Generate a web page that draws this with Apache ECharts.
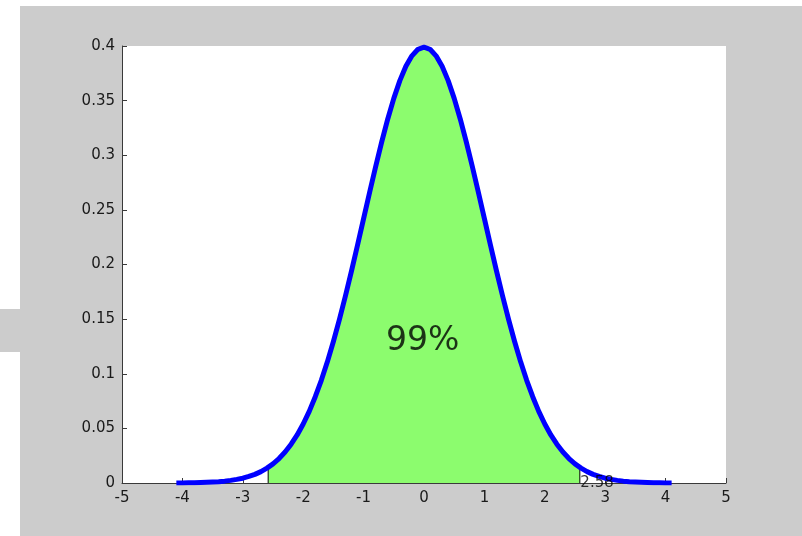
<!DOCTYPE html>
<html>
<head>
<meta charset="utf-8">
<script src="https://cdn.jsdelivr.net/npm/echarts@6/dist/echarts.min.js"></script>
<style>
  html, body { margin: 0; padding: 0; background: #ffffff; }
  #frame { position: absolute; left: 20px; top: 6px; width: 782px; height: 530px; background: #cccccc; }
  #tab { position: absolute; left: 0; top: 309px; width: 20px; height: 43px; background: #cccccc; }
  #chart { position: absolute; left: 0; top: 0; width: 802px; height: 536px; }
</style>
</head>
<body>
<div id="frame"></div>
<div id="tab"></div>
<div id="chart"></div>
<script>
// Standard normal density, sampled every 0.1 on [-4.1, 4.1]
const xs = [-4.1,-4.0,-3.9,-3.8,-3.7,-3.6,-3.5,-3.4,-3.3,-3.2,-3.1,-3.0,-2.9,-2.8,-2.7,-2.6,-2.5,-2.4,-2.3,-2.2,-2.1,
  -2.0,-1.9,-1.8,-1.7,-1.6,-1.5,-1.4,-1.3,-1.2,-1.1,-1.0,-0.9,-0.8,-0.7,-0.6,-0.5,-0.4,-0.3,-0.2,-0.1,
  0.0,0.1,0.2,0.3,0.4,0.5,0.6,0.7,0.8,0.9,1.0,1.1,1.2,1.3,1.4,1.5,1.6,1.7,1.8,1.9,
  2.0,2.1,2.2,2.3,2.4,2.5,2.6,2.7,2.8,2.9,3.0,3.1,3.2,3.3,3.4,3.5,3.6,3.7,3.8,3.9,4.0,4.1];
const density = [0.0001,0.0001,0.0002,0.0003,0.0004,0.0006,0.0009,0.0012,0.0017,0.0024,0.0033,0.0044,0.0060,0.0079,0.0104,
  0.0136,0.0175,0.0224,0.0283,0.0355,0.0440,0.0540,0.0656,0.0790,0.0940,0.1109,0.1295,0.1497,0.1714,0.1942,0.2179,
  0.2420,0.2661,0.2897,0.3123,0.3332,0.3521,0.3683,0.3814,0.3910,0.3970,
  0.3989,
  0.3970,0.3910,0.3814,0.3683,0.3521,0.3332,0.3123,0.2897,0.2661,0.2420,0.2179,0.1942,0.1714,0.1497,0.1295,0.1109,
  0.0940,0.0790,0.0656,0.0540,0.0440,0.0355,0.0283,0.0224,0.0175,0.0136,0.0104,0.0079,0.0060,0.0044,0.0033,0.0024,
  0.0017,0.0012,0.0009,0.0006,0.0004,0.0003,0.0002,0.0001,0.0001];

// Two-sided 99% critical value and the density there
const critical = 2.58;
const criticalDensity = 0.0143;
const areaLabel = '99%';
const areaLabelPos = [-0.02, 0.13];

const xTicks = { min: -5, max: 5, step: 1 };
const yTicks = { min: 0, max: 0.4, step: 0.05 };

const curve = xs.map((x, i) => [x, density[i]]);
const shaded = [[-critical, 0], [-critical, criticalDensity]]
  .concat(curve.filter(p => Math.abs(p[0]) < critical))
  .concat([[critical, criticalDensity], [critical, 0]]);

const font = '"DejaVu Sans", Verdana, sans-serif';
const axisColor = '#3a3a3a';
const textColor = '#1a1a1a';

const chart = echarts.init(document.getElementById('chart'), null, { renderer: 'canvas' });
chart.setOption({
  animation: false,
  backgroundColor: 'transparent',
  grid: {
    show: true, left: 122, top: 46, right: 76, bottom: 53,
    backgroundColor: '#ffffff', borderWidth: 0
  },
  xAxis: {
    type: 'value', min: xTicks.min, max: xTicks.max, interval: xTicks.step,
    axisLine: { onZero: false, lineStyle: { color: axisColor, width: 1 } },
    axisTick: { inside: true, length: 5, lineStyle: { color: axisColor } },
    axisLabel: { color: textColor, fontSize: 15, fontFamily: font, margin: 8 },
    splitLine: { show: false }
  },
  yAxis: {
    type: 'value', min: yTicks.min, max: yTicks.max, interval: yTicks.step,
    axisLine: { show: true, onZero: false, lineStyle: { color: axisColor, width: 1 } },
    axisTick: { show: true, inside: true, length: 5, lineStyle: { color: axisColor } },
    axisLabel: { color: textColor, fontSize: 15, fontFamily: font, margin: 7 },
    splitLine: { show: false }
  },
  series: [
    {
      type: 'line', data: shaded, symbol: 'none', z: 1,
      lineStyle: { color: '#000000', width: 1 },
      areaStyle: { color: '#8cfc6e', opacity: 1, origin: 'start' }
    },
    {
      type: 'line', data: curve, symbol: 'none', z: 3,
      lineStyle: { color: '#0000ff', width: 5, cap: 'butt', join: 'round' }
    },
    {
      type: 'scatter', symbolSize: 1, z: 4, silent: true,
      itemStyle: { color: 'rgba(0,0,0,0)' },
      data: [{ value: areaLabelPos, name: areaLabel }],
      label: {
        show: true, position: 'inside', formatter: p => p.name,
        color: '#000000', fontSize: 33, fontFamily: font,
        textBorderWidth: 0, textShadowBlur: 0
      }
    },
    {
      type: 'scatter', symbolSize: 1, z: 5, silent: true,
      itemStyle: { color: 'rgba(0,0,0,0)' },
      data: [{ value: [critical, 0], name: String(critical) }],
      label: {
        show: true, position: 'right', distance: 0, formatter: p => p.name,
        color: '#000000', fontSize: 15, fontFamily: font,
        textBorderWidth: 0
      }
    }
  ]
});
</script>
</body>
</html>
